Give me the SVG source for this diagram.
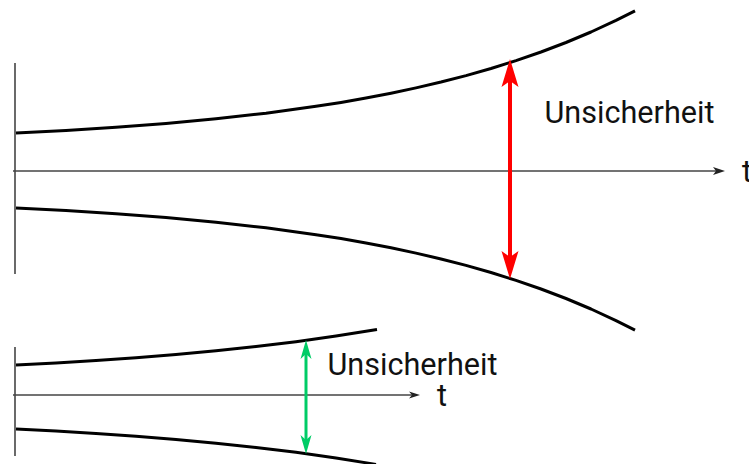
<svg xmlns="http://www.w3.org/2000/svg" width="749" height="464" viewBox="0 0 749 464">
<style>
.axis{stroke:#444;stroke-width:1.6;fill:none}
.axhead{fill:#222}
.curve{stroke:#000;stroke-width:3;fill:none;stroke-linejoin:round;stroke-linecap:butt}
.lbl{font-family:Roboto,"Liberation Sans",sans-serif;font-size:30.6px;fill:#111}
</style>
<rect width="749" height="464" fill="#fff"/>
<g id="top-chart">
  <g id="top-axes">
    <line class="axis" x1="15" y1="63" x2="15" y2="274"/>
    <line class="axis" x1="13" y1="171" x2="720" y2="171"/>
    <path class="axhead" d="M725,171 L713,167 L716,171 L713,175 Z"/>
  </g>
  <g id="top-curves">
    <polyline class="curve" points="16,133 66,130.42 116,127.28 166,123.46 216,118.82 266,113.19 316,106.34 341,102.4 366,98.01 391,93.2 416,87.89 441,82.05 466,75.6 491,68.5 516,60.65 541,52 566,42.5 591,32 616,20.44 635,10.9"/>
    <polyline class="curve" points="16,208 66,210.58 116,213.72 166,217.54 216,222.18 266,227.81 316,234.66 341,238.6 366,242.99 391,247.8 416,253.11 441,258.95 466,265.4 491,272.5 516,280.35 541,289 566,298.5 591,309 616,320.56 635,330.1"/>
  </g>
  <g id="top-uncertainty">
    <line x1="510" y1="80" x2="510" y2="258" stroke="#ff0000" stroke-width="4"/>
    <path d="M510,59 L518.5,87 L510,81 L501.5,87 Z" fill="#ff0000"/>
    <path d="M510,279 L518.5,251 L510,257 L501.5,251 Z" fill="#ff0000"/>
  </g>
  <text class="lbl" x="544.5" y="122.5">Unsicherheit</text>
  <text class="lbl" x="742" y="182">t</text>
</g>
<g id="bottom-chart">
  <g id="bottom-axes">
    <line class="axis" x1="15" y1="347" x2="15" y2="456"/>
    <line class="axis" x1="13" y1="395" x2="415" y2="395"/>
    <path class="axhead" d="M420,395 L409,391.5 L412,395 L409,398.5 Z"/>
  </g>
  <g id="bottom-curves">
    <polyline class="curve" points="16,365 56,362.9 96,360.48 136,357.69 176,354.49 216,350.81 256,346.57 296,341.7 336,336.09 377,329.5"/>
    <polyline class="curve" points="16,429 56,431.1 96,433.52 136,436.31 176,439.51 216,443.19 256,447.43 296,452.3 336,457.91 376,464.36"/>
  </g>
  <g id="bottom-uncertainty">
    <line x1="306" y1="353" x2="306" y2="441" stroke="#00cc66" stroke-width="3"/>
    <path d="M306,340 L311.5,359 L306,354 L300.5,359 Z" fill="#00cc66"/>
    <path d="M306,454 L311.5,435 L306,440 L300.5,435 Z" fill="#00cc66"/>
  </g>
  <text class="lbl" x="327.5" y="375">Unsicherheit</text>
  <text class="lbl" x="437" y="406">t</text>
</g>
</svg>
